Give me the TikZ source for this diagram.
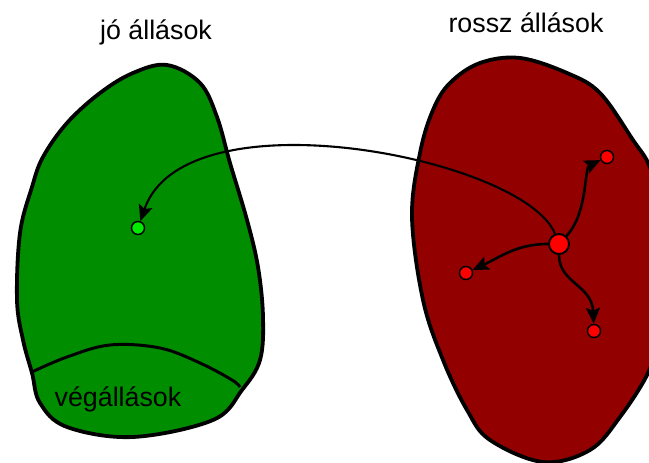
\documentclass[tikz,border=0pt]{standalone}
\usepackage{fontspec}
\setmainfont{Liberation Sans}
\usetikzlibrary{arrows.meta}
\definecolor{goodgreen}{RGB}{0,142,0}
\definecolor{badred}{RGB}{147,0,0}
\definecolor{ptgreen}{RGB}{0,235,0}
\definecolor{ptred}{RGB}{255,0,0}
\begin{document}
\begin{tikzpicture}[x=1pt,y=1pt,
 blob/.style={draw=black,line width=3.8pt,line join=round},
 lbl/.style={font=\fontsize{26.8}{31}\selectfont,anchor=base,inner sep=0pt},
 gpt/.style={circle,draw=black,line width=1.5pt,fill=ptgreen,minimum size=13pt,inner sep=0pt},
 rpt/.style={circle,draw=black,line width=1.5pt,fill=ptred,minimum size=13pt,inner sep=0pt},
 rbig/.style={rpt,minimum size=20pt,line width=1.9pt},
 move/.style={line width=2.6pt,-{Stealth[length=16pt,width=14pt,inset=3pt]}},
 bigmove/.style={line width=2.1pt,-{Stealth[length=16pt,width=14pt,inset=3pt]}}]
\useasboundingbox (0,0) rectangle (649,463);
\clip (0,0) rectangle (649,463);
\fill[white] (0,0) rectangle (649,463);
\draw[blob,fill=goodgreen] plot[smooth cycle,tension=0.6] coordinates {
 (167,398) (200,380) (217,346) (230,300) (247,243) (258,196) (263,146)
 (260,103) (242,73) (213,43) (133,26) (67,36) (40,60) (32,90) (23,123)
 (17,163) (20,230) (32,276) (43,306) (67,340) (100,370) (133,390)};
\draw[line width=3pt] plot[smooth,tension=0.6] coordinates {
 (32,91) (67,106) (110,118) (160,115) (200,100) (232,83) (240,76)};
\draw[blob,fill=badred] plot[smooth cycle,tension=0.6] coordinates {
 (520,405) (567,390) (600,370) (633,323) (649,298) (658,263) (662,193)
 (656,123) (648,90) (620,46) (590,13) (543,1) (490,23) (467,53) (443,103)
 (423,163) (412,246) (420,310) (433,353) (450,380) (480,400)};
\node[lbl] (good) at (156,423) {jó állások};
\node[lbl] (bad) at (526,430) {rossz állások};
\node[lbl] (final) at (118,56) {végállások};
\node[gpt] (g) at (138,235) {};
\node[rbig] (r) at (559,219) {};
\node[rpt] (r1) at (607,306) {};
\node[rpt] (r2) at (466,190) {};
\node[rpt] (r3) at (594,132) {};
\draw[bigmove] (r) .. controls (525,305) and (185,372) .. (g);
\draw[move] (r) .. controls (588,250) and (584,295) .. (r1);
\draw[move] (r) to[out=180,in=25] (r2);
\draw[move] (r) .. controls (559,180) and (592,178) .. (r3);
\end{tikzpicture}
\end{document}
